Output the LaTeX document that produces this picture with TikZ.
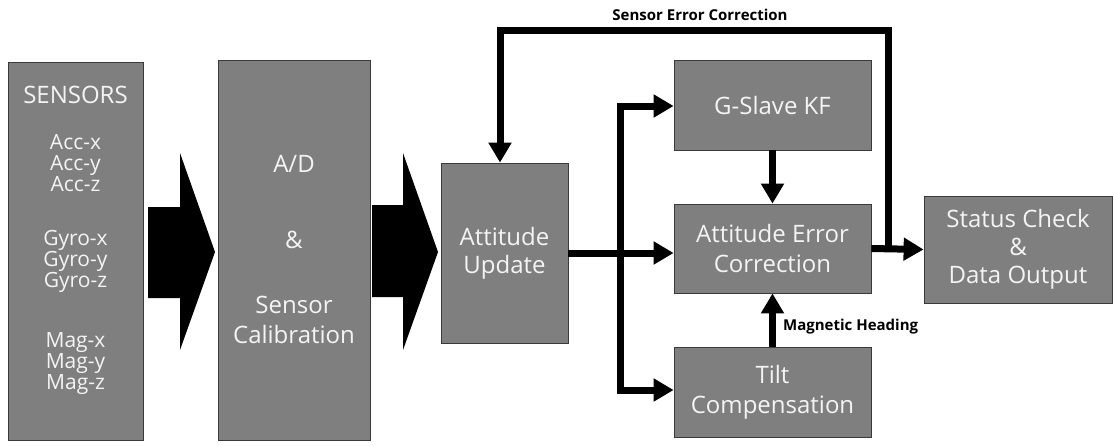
\documentclass[tikz,border=0pt]{standalone}
\usepackage{fontspec}
\setmainfont{Open Sans}
\usetikzlibrary{arrows.meta}
\definecolor{boxgray}{HTML}{7F7F7F}
\definecolor{boxedge}{HTML}{3A3A3A}
\definecolor{boxtext}{HTML}{F4F4F4}
\begin{document}
\begin{tikzpicture}[x=1pt,y=-1pt,
  box/.style={draw=boxedge, line width=0.8pt, fill=boxgray, text=boxtext, align=center, inner sep=0pt, font=\fontsize{24}{30}\selectfont},
  txt/.style={text=boxtext, align=center, inner sep=0pt},
  conn/.style={line width=7pt, line join=miter, -{Triangle[width=22pt,length=20pt]}},
  bus/.style={line width=7pt, line join=miter, {Triangle[width=22pt,length=20pt]}-{Triangle[width=22pt,length=20pt]}},
  lbl/.style={font=\bfseries\fontsize{15}{17}\selectfont, text=black, inner sep=1pt},
  blockarrow/.style={fill=black}]
\useasboundingbox (0,0) rectangle (1114,445);

% boxes
\node[box, minimum width=135pt, minimum height=378pt] (sens) at (75.5,251) {};
\node[txt, font=\fontsize{21}{21}\selectfont] (senstxt) at (75.5,240.5)
  {{\fontsize{24}{21}\selectfont SENSORS}\\[25pt]Acc-x\\Acc-y\\Acc-z\\[33pt]Gyro-x\\Gyro-y\\Gyro-z\\[39pt]Mag-x\\Mag-y\\Mag-z};
\node[box, minimum width=152pt, minimum height=380pt] (ad) at (294,250)
  {A/D\\[46pt]\&\\[35pt]Sensor\\Calibration};
\node[box, minimum width=127pt, minimum height=180pt, font=\fontsize{24}{28}\selectfont] (au) at (504.5,253) {Attitude\\Update};
\node[box, minimum width=197pt, minimum height=90pt] (gs) at (772.5,105) {G-Slave KF};
\node[box, minimum width=197pt, minimum height=89pt] (aec) at (772.5,248.5) {Attitude Error\\Correction};
\node[box, minimum width=197pt, minimum height=90pt] (tc) at (772.5,392) {Tilt\\Compensation};
\node[box, minimum width=188pt, minimum height=107pt, font=\fontsize{24}{28}\selectfont] (sc) at (1018,249.5) {Status Check\\\&\\Data Output};

% block arrows
\fill[blockarrow] (148,207) -- (180,207) -- (180,153) -- (215,252) -- (180,350) -- (180,298) -- (148,298) -- cycle;
\fill[blockarrow] (372,205) -- (403,205) -- (403,153) -- (438,252) -- (403,350) -- (403,297) -- (372,297) -- cycle;

% connectors
\coordinate (j) at (888,248.5);
\coordinate (tr) at (888,30);
\coordinate (tl) at (500,30);
\coordinate (bt) at (620,106);
\coordinate (bb) at (620,390);
\draw[conn] (aec.east) -- (sc.west);
\draw[conn] (j) -- (tr) -- (tl) -- (tl |- au.north);
\draw[conn] (au.east) -- (au.east -| aec.west);
\draw[bus] (bt -| gs.west) -- (bt) -- (bb) -- (bb -| tc.west);
\draw[conn] (gs.south) -- (aec.north);
\draw[conn] (tc.north) -- (aec.south);

% labels
\node[lbl] (sec) at (700,15) {Sensor Error Correction};
\node[lbl, anchor=west] (mh) at (782,327) {Magnetic Heading};
\end{tikzpicture}
\end{document}
